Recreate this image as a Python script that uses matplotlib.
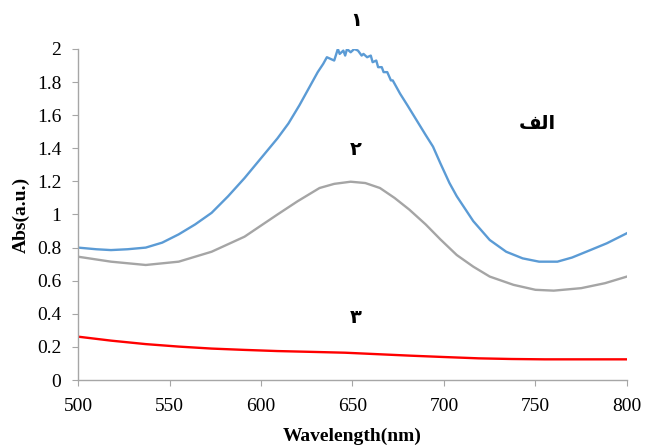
import matplotlib.pyplot as plt
from matplotlib.ticker import FuncFormatter

# curve 1 (blue)
wl_1 = [500, 510, 518, 527, 537, 546, 555, 564, 573, 582, 591, 600, 609, 615, 621, 625,
        629, 631, 634, 636, 638, 640, 642, 643, 645, 646, 647, 649, 651, 653, 655, 656,
        658, 660, 661, 663, 664, 666, 667, 669, 671, 672, 674, 676, 680, 685, 690, 694,
        698, 703, 707, 716, 725, 734, 743, 752, 762, 770, 780, 789, 800]
abs_1 = [0.80, 0.79, 0.785, 0.79, 0.80, 0.83, 0.88, 0.94, 1.01, 1.11, 1.22, 1.34, 1.46, 1.55,
         1.66, 1.74, 1.82, 1.86, 1.91, 1.95, 1.94, 1.93, 2.00, 1.97, 1.99, 1.96, 2.00, 1.98,
         2.00, 1.99, 1.96, 1.97, 1.95, 1.96, 1.92, 1.93, 1.89, 1.89, 1.86, 1.86, 1.81, 1.81,
         1.77, 1.73, 1.66, 1.57, 1.48, 1.41, 1.31, 1.19, 1.11, 0.96, 0.846, 0.775, 0.735,
         0.715, 0.715, 0.74, 0.785, 0.826, 0.887]

# curve 2 (gray)
wl_2 = [500, 518, 537, 555, 573, 591, 609, 620, 632, 640, 649, 657, 665, 673, 681, 690, 698,
        707, 716, 725, 738, 750, 760, 775, 788, 800]
abs_2 = [0.745, 0.715, 0.695, 0.715, 0.775, 0.866, 1.0, 1.08, 1.16, 1.185, 1.198, 1.19, 1.16,
         1.10, 1.03, 0.94, 0.85, 0.755, 0.685, 0.625, 0.575, 0.545, 0.54, 0.555, 0.585, 0.625]

# curve 3 (red)
wl_3 = [500, 518, 537, 555, 573, 591, 609, 628, 646, 664, 682, 700, 719, 737, 755, 775, 800]
abs_3 = [0.262, 0.238, 0.217, 0.202, 0.19, 0.182, 0.175, 0.17, 0.165, 0.156, 0.147, 0.139,
         0.131, 0.127, 0.125, 0.125, 0.125]

x_ticks = [500, 550, 600, 650, 700, 750, 800]
y_ticks = [0, 0.2, 0.4, 0.6, 0.8, 1, 1.2, 1.4, 1.6, 1.8, 2]

plt.rcParams['font.family'] = 'Liberation Serif'

fig = plt.figure(figsize=(6.45, 4.45), dpi=100)
ax = fig.add_axes([0.121, 0.146, 0.851, 0.744])

ax.plot(wl_1, abs_1, color='#5B9BD5', lw=1.7)
ax.plot(wl_2, abs_2, color='#A5A5A5', lw=1.7)
ax.plot(wl_3, abs_3, color='#FF0000', lw=1.7)

ax.set_xlim(500, 800)
ax.set_ylim(0, 2)
ax.set_xticks(x_ticks)
ax.set_yticks(y_ticks)
ax.yaxis.set_major_formatter(FuncFormatter(lambda v, p: '%g' % v))
ax.tick_params(labelsize=14, direction='out', length=4, color='#A6A6A6')
ax.tick_params(axis='x', pad=9)
ax.tick_params(axis='y', pad=8)

for s in ['top', 'right']:
    ax.spines[s].set_visible(False)
for s in ['left', 'bottom']:
    ax.spines[s].set_color('#A6A6A6')
    ax.spines[s].set_linewidth(1.0)

ax.set_xlabel('Wavelength(nm)', fontsize=14, fontweight='bold', labelpad=9)
ax.set_ylabel('Abs(a.u.)', fontsize=14, fontweight='bold', labelpad=5)

# curve labels (Arabic script, visual order)
lab = dict(fontsize=14, fontweight='bold', family=['DejaVu Sans'], ha='center', va='center')
ax.text(652, 2.17, '\u0661', **lab)
ax.text(652, 1.39, '\u0662', **lab)
ax.text(652, 0.38, '\u0663', **lab)
ax.text(751, 1.55, '\ufed2\ufedf\ufe8d', **lab)

fig.savefig('out.png', dpi=100)
